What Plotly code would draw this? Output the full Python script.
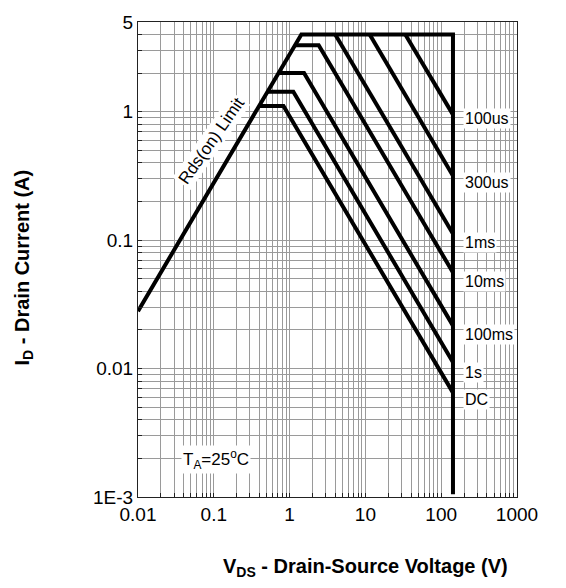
import math
import plotly.graph_objects as go

# ---------------- data ----------------
x_tick_vals = [0.01, 0.1, 1, 10, 100, 1000]
x_tick_text = ["0.01", "0.1", "1", "10", "100", "1000"]
y_tick_vals = [0.001, 0.01, 0.1, 1, 5]
y_tick_text = ["1E-3", "0.01", "0.1", "1", "5"]

# Rds(on) limit line
rds_v = [0.01, 1.43]
rds_i = [0.028, 4.0]
# Current limit and voltage limit
i_max = 4.0
v_max = 143.0
i_floor = 0.00105

# Pulse curves: start on the Rds / current limit, flat to knee, then down to v_max
pulse_labels = ["100us", "300us", "1ms", "10ms", "100ms", "1s", "DC"]
pulse_start_v = [33.6, 11.4, 4.0, 1.176, 0.715, 0.511, 0.396]
pulse_flat_i = [4.0, 4.0, 4.0, 3.29, 2.0, 1.43, 1.107]
pulse_knee_v = [33.6, 11.4, 4.0, 2.42, 1.55, 1.12, 0.83]
pulse_end_i = [0.95, 0.318, 0.112, 0.056, 0.0216, 0.0112, 0.0065]
pulse_label_i = [0.885, 0.28, 0.096, 0.048, 0.0184, 0.0093, 0.0057]

FONT = "Arial, 'Liberation Sans', Helvetica, sans-serif"
LW = 4

fig = go.Figure()

# envelope: Rds line -> current limit -> voltage limit
fig.add_trace(go.Scatter(
    x=rds_v + [v_max, v_max],
    y=rds_i + [i_max, i_floor],
    mode="lines", line=dict(color="black", width=LW),
    hoverinfo="skip", showlegend=False))

for sv, fi, kv, ei in zip(pulse_start_v, pulse_flat_i, pulse_knee_v, pulse_end_i):
    fig.add_trace(go.Scatter(
        x=[sv, kv, v_max], y=[fi, fi, ei],
        mode="lines", line=dict(color="black", width=LW),
        hoverinfo="skip", showlegend=False))

# minor tick positions (gridlines)
x_minor = [m * 10 ** e for e in range(-2, 3) for m in range(2, 10)]
y_minor = [m * 10 ** e for e in range(-3, 0) for m in range(2, 10)] + [2, 3, 4]

GRID = "#9a9a9a"
axis_common = dict(
    type="log", showline=True, linecolor="#222", linewidth=1, mirror=True,
    ticks="inside", ticklen=4, tickcolor="#222",
    showgrid=True, gridcolor=GRID, gridwidth=1, zeroline=False,
    tickfont=dict(family=FONT, size=19, color="black"),
)

fig.update_xaxes(
    **axis_common,
    range=[-2, 3], tickmode="array", tickvals=x_tick_vals, ticktext=x_tick_text,
    minor=dict(tickmode="array", tickvals=x_minor, ticks="inside", ticklen=4,
               tickcolor="#222", showgrid=True, gridcolor=GRID, gridwidth=1),
)
fig.update_yaxes(
    **axis_common,
    range=[-3, math.log10(5)], tickmode="array", tickvals=y_tick_vals, ticktext=y_tick_text,
    minor=dict(tickmode="array", tickvals=y_minor, ticks="inside", ticklen=4,
               tickcolor="#222", showgrid=True, gridcolor=GRID, gridwidth=1),
)

annotations = []
for lab, li in zip(pulse_labels, pulse_label_i):
    annotations.append(dict(
        x=math.log10(194), y=math.log10(li), xref="x", yref="y",
        text=lab, showarrow=False, xanchor="left", yanchor="middle",
        bgcolor="white", borderpad=1,
        font=dict(family=FONT, size=16, color="black")))

annotations.append(dict(
    x=-1.037, y=-0.231, xref="x", yref="y", text="Rds(on) Limit",
    showarrow=False, textangle=-55, bgcolor="white", borderpad=1,
    font=dict(family=FONT, size=17, color="black")))

annotations.append(dict(
    x=(181 - 138) / 379, y=(497 - 474) / 477, xref="paper", yref="paper",
    text="T<sub>A</sub>=25<sup>o</sup>C", showarrow=False,
    bgcolor="white", borderpad=1,
    font=dict(family=FONT, size=17, color="black")))

# axis titles
annotations.append(dict(
    x=(365 - 138) / 379, y=(497 - 568) / 477, xref="paper", yref="paper",
    text="<b>V<sub>DS</sub> - Drain-Source Voltage (V)</b>", showarrow=False,
    xanchor="center", yanchor="middle",
    font=dict(family=FONT, size=20, color="black")))
annotations.append(dict(
    x=(23.5 - 138) / 379, y=(497 - 267) / 477, xref="paper", yref="paper",
    text="<b>I<sub>D</sub> - Drain Current (A)</b>", showarrow=False,
    textangle=-90, xanchor="center", yanchor="middle",
    font=dict(family=FONT, size=20, color="black")))

fig.update_layout(
    width=566, height=588,
    margin=dict(l=138, r=49, t=20, b=91),
    paper_bgcolor="white", plot_bgcolor="white",
    annotations=annotations,
    font=dict(family=FONT, color="black"),
)

fig.write_html("out.html")
